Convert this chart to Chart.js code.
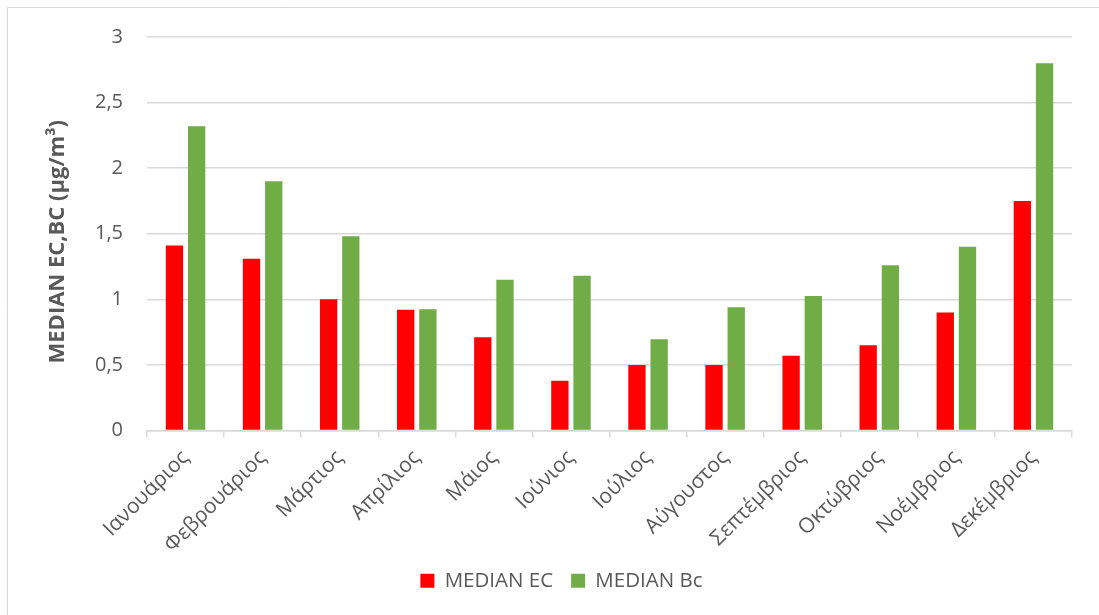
<!DOCTYPE html>
<html>
<head>
<meta charset="utf-8">
<script src="https://cdn.jsdelivr.net/npm/chart.js@4/dist/chart.umd.min.js"></script>
<style>
  html, body { margin: 0; padding: 0; background: #fff; }
  #wrap { position: relative; width: 1099px; height: 615px; }
</style>
</head>
<body>
<div id="wrap"><canvas id="c" width="1099" height="615"></canvas></div>
<script>
// Monthly medians of elemental carbon (EC) and black carbon (BC), in µg/m³
const months = ['Ιανουάριος', 'Φεβρουάριος', 'Μάρτιος', 'Απρίλιος', 'Μάιος', 'Ιούνιος',
                'Ιούλιος', 'Αύγουστος', 'Σεπτέμβριος', 'Οκτώβριος', 'Νοέμβριος', 'Δεκέμβριος'];
const medianEC = [1.41, 1.31, 1.00, 0.92, 0.71, 0.38, 0.50, 0.50, 0.57, 0.65, 0.90, 1.75];
const medianBC = [2.32, 1.90, 1.48, 0.925, 1.15, 1.18, 0.695, 0.94, 1.025, 1.26, 1.40, 2.80];
const yTicks = [0, 0.5, 1, 1.5, 2, 2.5, 3];
const yTickLabels = ['0', '0,5', '1', '1,5', '2', '2,5', '3'];
const yTitle = 'MEDIAN EC,BC (μg/m³)';

const TEXT = '#595959';
const GRID = '#d9d9d9';
const FONT = "'Open Sans', 'Noto Sans', sans-serif";

// white background with the chart frame's top and left edges
const framePlugin = {
  id: 'frame',
  beforeDraw(chart) {
    const ctx = chart.ctx;
    ctx.save();
    ctx.fillStyle = '#ffffff';
    ctx.fillRect(0, 0, chart.width, chart.height);
    ctx.strokeStyle = GRID;
    ctx.lineWidth = 1;
    ctx.beginPath();
    ctx.moveTo(7.5, chart.height);
    ctx.lineTo(7.5, 7.5);
    ctx.lineTo(chart.width, 7.5);
    ctx.stroke();
    ctx.restore();
  }
};

// vertical axis title, centred on the plot plus the category labels
const yTitlePlugin = {
  id: 'yTitle',
  afterDraw(chart) {
    const ctx = chart.ctx;
    const area = chart.chartArea;
    ctx.save();
    ctx.translate(area.left - 89, (area.top + area.bottom) / 2 + 8);
    ctx.rotate(-Math.PI / 2);
    ctx.fillStyle = TEXT;
    ctx.font = "bold 22px " + FONT;
    ctx.textAlign = 'center';
    ctx.textBaseline = 'middle';
    ctx.fillText(yTitle, 0, 0);
    ctx.restore();
  }
};

new Chart(document.getElementById('c'), {
  type: 'bar',
  data: {
    labels: months,
    datasets: [
      { label: 'MEDIAN EC', data: medianEC, backgroundColor: '#ff0000',
        categoryPercentage: 0.576, barPercentage: 0.78 },
      { label: 'MEDIAN Bc', data: medianBC, backgroundColor: '#70ad47',
        categoryPercentage: 0.576, barPercentage: 0.78 }
    ]
  },
  options: {
    responsive: false,
    animation: false,
    layout: { padding: { top: 37, right: 27, bottom: 14, left: 51 } },
    plugins: {
      tooltip: { enabled: false },
      legend: {
        position: 'bottom',
        labels: {
          boxWidth: 14, boxHeight: 14, padding: 18,
          color: TEXT, font: { family: FONT, size: 20.5 }
        }
      }
    },
    scales: {
      x: {
        grid: { display: true, drawOnChartArea: false, drawTicks: true, tickLength: 7,
                color: GRID, lineWidth: 1.5, offset: true },
        border: { display: true, color: GRID, width: 1.5 },
        ticks: { color: TEXT, font: { family: FONT, size: 21 }, minRotation: 45, maxRotation: 45,
                 padding: 8, autoSkip: false },
        afterFit(scale) { scale.height = 122; }
      },
      y: {
        min: 0, max: 3,
        afterBuildTicks(scale) { scale.ticks = yTicks.map(v => ({ value: v })); },
        grid: { color: GRID, lineWidth: 1.5, drawTicks: false },
        border: { display: false },
        ticks: {
          color: TEXT, font: { family: FONT, size: 20 }, padding: 24,
          callback: (v) => yTickLabels[yTicks.indexOf(v)]
        },
        afterFit(scale) { scale.width = 96; }
      }
    }
  },
  plugins: [framePlugin, yTitlePlugin]
});
</script>
</body>
</html>
